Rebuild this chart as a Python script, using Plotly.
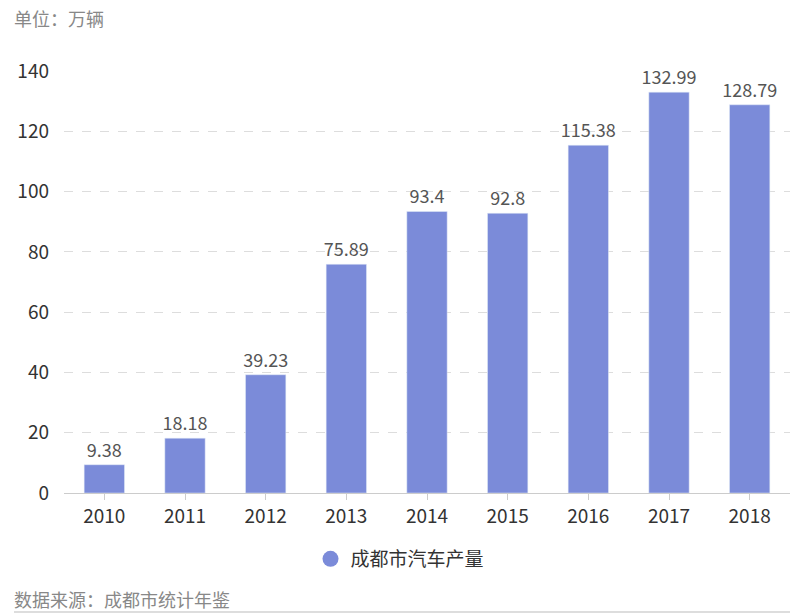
import plotly.graph_objects as go

years = ["2010", "2011", "2012", "2013", "2014", "2015", "2016", "2017", "2018"]
values = [9.38, 18.18, 39.23, 75.89, 93.4, 92.8, 115.38, 132.99, 128.79]
labels = ["9.38", "18.18", "39.23", "75.89", "93.4", "92.8", "115.38", "132.99", "128.79"]
series_name = "成都市汽车产量"
unit_text = "单位：万辆"
source_text = "数据来源：成都市统计年鉴"

FONT = "Noto Sans CJK SC, Noto Sans, sans-serif"
BAR = "#7B8BD9"
PW, PH, L, T = 726, 422, 64, 71

fig = go.Figure()
fig.add_trace(go.Bar(
    x=years, y=values, text=labels, textposition="outside",
    textfont=dict(size=18, color="#555555", family=FONT),
    constraintext="none",
    marker=dict(color=BAR), showlegend=False, cliponaxis=False,
    name=series_name,
))
fig.add_trace(go.Scatter(
    x=[None], y=[None], mode="markers", name=series_name,
    marker=dict(symbol="circle", size=16, color=BAR), showlegend=True,
))

fig.update_layout(
    width=800, height=613,
    margin=dict(l=L, r=10, t=T, b=120),
    paper_bgcolor="white", plot_bgcolor="white",
    font=dict(family=FONT, color="#333333", size=19),
    bargap=0.5,
    xaxis=dict(
        showline=True, linecolor="#cccccc", linewidth=1,
        ticks="outside", ticklen=6, tickcolor="#cccccc",
        tickfont=dict(size=19, color="#333333"),
        showgrid=False,
    ),
    yaxis=dict(
        range=[0, 140], dtick=20, showline=False, zeroline=False,
        showgrid=True, gridcolor="#dddddd", griddash="dash", gridwidth=1,
        tickfont=dict(size=19, color="#333333"),
        ticklabelstandoff=14,
    ),
    legend=dict(
        orientation="h", x=(400 - L) / PW, xanchor="center",
        y=-(540 - 493) / PH, yanchor="top",
        font=dict(size=19, color="#333333"),
    ),
    annotations=[
        dict(text=unit_text, xref="paper", yref="paper", x=(12 - L) / PW, xanchor="left",
             y=1 + (T - 18) / PH, yanchor="middle", showarrow=False,
             font=dict(size=18, color="#888888")),
        dict(text=source_text, xref="paper", yref="paper", x=(12 - L) / PW, xanchor="left",
             y=-(599 - 493) / PH, yanchor="middle", showarrow=False,
             font=dict(size=18, color="#888888")),
    ],
    shapes=[
        dict(type="line", xref="paper", yref="paper", x0=(14 - L) / PW, x1=1,
             y0=-(612 - 493) / PH, y1=-(612 - 493) / PH,
             line=dict(color="#bbbbbb", width=1)),
    ],
)

fig.write_html("out.html")
